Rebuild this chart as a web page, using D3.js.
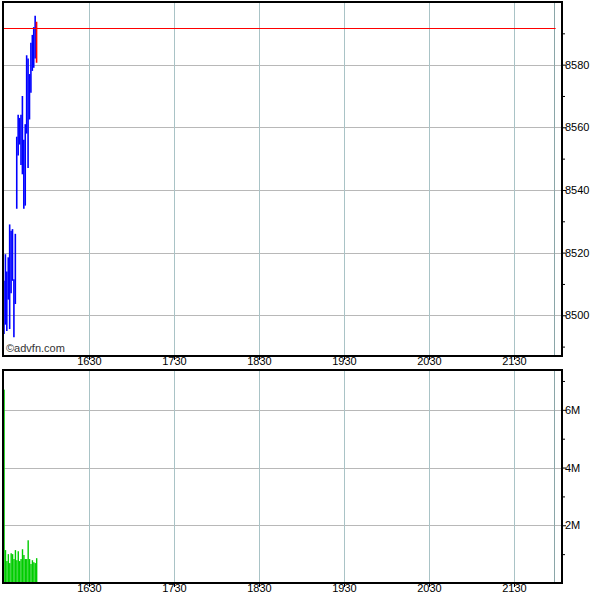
<!DOCTYPE html>
<html>
<head>
<meta charset="utf-8">
<script src="https://cdn.jsdelivr.net/npm/d3@7"></script>
<style>
html,body{margin:0;padding:0;background:#fff;}
svg{display:block;}
text{font-family:"Liberation Sans",Arial,sans-serif;font-size:11px;fill:#000;}
</style>
</head>
<body>
<svg id="chart" width="600" height="600"></svg>
<script>
// ---- data ----
const times = ["1530","1531","1532","1533","1534","1535","1536","1537","1538","1539","1540","1541",
               "1542","1543","1544","1545","1546","1547","1548","1549","1550","1551","1552","1553"];
const highs = [8511,8519.5,8514,8518.5,8529,8527,8527.5,8511.5,8526,8557,8564,8563,
               8564,8570,8556,8561,8583,8582,8577,8587,8589.5,8592,8595.6,8593.7];
const lows  = [8494,8497,8495,8505,8495.6,8507,8511,8493,8503.6,8534,8551,8554.5,
               8548,8545,8534,8535,8558,8547,8562.5,8571,8578,8579,8582,8580.6];
const volumes = [6.7e6,1.14e6,0.76e6,1.0e6,0.69e6,1.03e6,1.0e6,0.83e6,1.14e6,0.79e6,1.1e6,0.76e6,
                 0.83e6,1.17e6,0.97e6,0.83e6,0.83e6,1.48e6,0.83e6,0.66e6,0.79e6,0.72e6,0.69e6,0.86e6];
const lastPrice = 8591.7;
const timeTicks = ["1630","1730","1830","1930","2030","2130"];
const sessionEnd = ["2158"];
const priceTicks = [8500,8520,8540,8560,8580];
const volumeTicks = [2e6,4e6,6e6];
const volumeTickLabels = ["2M","4M","6M"];
const watermark = "©advfn.com";

// ---- helpers ----
const toMin = s => +s.slice(0,2)*60 + +s.slice(2);
const svg = d3.select("#chart");
const L = 3, R = 562;
const up = {top:2, bottom:356};
const lo = {top:370, bottom:583};

const x = d3.scaleLinear().domain([929.3, 1323.9]).range([L, R]);
const yP = d3.scaleLinear().domain([8487, 8600]).range([up.bottom, up.top]);
const yV = d3.scaleLinear().domain([0, 7.38e6]).range([lo.bottom, lo.top]);

function panel(top, bottom, yScale, majors, minors, fmt) {
  const g = svg.append("g");
  // horizontal grid
  g.selectAll("line.hg").data(majors).enter().append("line")
    .attr("x1", L).attr("x2", R).attr("y1", d => Math.round(yScale(d))+0.5).attr("y2", d => Math.round(yScale(d))+0.5)
    .attr("stroke", "#b8b8b8").attr("stroke-width", 1);
  // vertical grid
  g.selectAll("line.vg").data(timeTicks.concat(sessionEnd)).enter().append("line")
    .attr("y1", top).attr("y2", bottom)
    .attr("x1", d => Math.round(x(toMin(d)))+0.5).attr("x2", d => Math.round(x(toMin(d)))+0.5)
    .attr("stroke", d => sessionEnd.includes(d) ? "#8aa6a8" : "#a9c3c6").attr("stroke-width", 1);
  // right axis
  const ax = d3.axisRight(yScale).tickValues(majors).tickSize(4).tickFormat(fmt);
  const ag = g.append("g").attr("transform", `translate(${R},0)`).call(ax);
  ag.select(".domain").remove();
  ag.selectAll("text").attr("x", 3);
  const mg = g.append("g").attr("transform", `translate(${R},0)`)
    .call(d3.axisRight(yScale).tickValues(minors).tickSize(3).tickFormat(""));
  mg.select(".domain").remove();
  // bottom axis labels
  const bx = d3.axisBottom(x).tickValues(timeTicks.map(toMin)).tickSize(4)
    .tickFormat(d => timeTicks[timeTicks.map(toMin).indexOf(d)]);
  const bg = g.append("g").attr("transform", `translate(0,${bottom})`).call(bx);
  bg.select(".domain").remove();
  bg.selectAll("text").attr("dy", "0.55em").attr("y", 3);
  return g;
}

// ---- upper panel ----
const minorP = d3.range(8490, 8600, 20);
panel(up.top, up.bottom, yP, priceTicks, minorP, d => d);

// price bars
svg.append("g").selectAll("line").data(times).enter().append("line")
  .attr("x1", (d,i) => x(toMin(d))).attr("x2", (d,i) => x(toMin(d)))
  .attr("y1", (d,i) => yP(highs[i])).attr("y2", (d,i) => yP(lows[i]))
  .attr("stroke", (d,i) => i === times.length-1 ? "#ff0000" : "#0000ff")
  .attr("stroke-width", 1.6);

// last price line
svg.append("line")
  .attr("x1", L).attr("x2", x(toMin(sessionEnd[0]))+2)
  .attr("y1", Math.round(yP(lastPrice))+0.5).attr("y2", Math.round(yP(lastPrice))+0.5)
  .attr("stroke", "#ff0000").attr("stroke-width", 1.2);

// watermark
svg.append("text").attr("x", 6).attr("y", 352).attr("fill", "#333").style("fill","#333")
  .style("font-size","11px").text(watermark);

// frame
svg.append("rect").attr("x", L).attr("y", up.top).attr("width", R-L).attr("height", up.bottom-up.top)
  .attr("fill", "none").attr("stroke", "#000").attr("stroke-width", 2);

// ---- lower panel ----
const minorV = [1e6,3e6,5e6,7e6];
panel(lo.top, lo.bottom, yV, volumeTicks, minorV, d => volumeTickLabels[volumeTicks.indexOf(d)]);

svg.append("g").selectAll("rect").data(times).enter().append("rect")
  .attr("x", (d,i) => x(toMin(d)) - 0.6)
  .attr("width", 1.4)
  .attr("y", (d,i) => yV(volumes[i]))
  .attr("height", (d,i) => yV(0) - yV(volumes[i]))
  .attr("fill", "#00cc00");

svg.append("rect").attr("x", L).attr("y", lo.top).attr("width", R-L).attr("height", lo.bottom-lo.top)
  .attr("fill", "none").attr("stroke", "#000").attr("stroke-width", 2);
</script>
</body>
</html>
